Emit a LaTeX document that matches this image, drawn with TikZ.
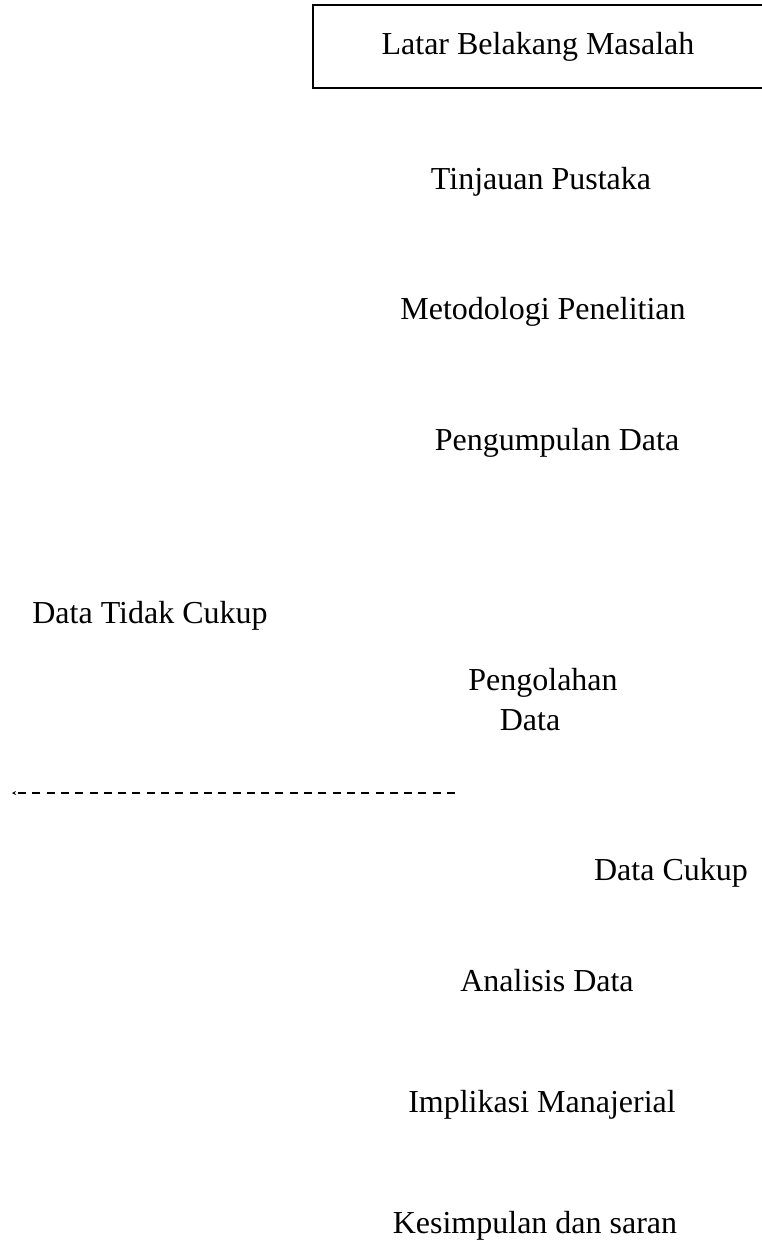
\documentclass[tikz,border=0pt]{standalone}
\usepackage{fontspec}
\setmainfont{Liberation Serif}
\usepackage{tikz}
\usetikzlibrary{arrows.meta}

\begin{document}
\begin{tikzpicture}[x=1pt, y=-1pt,
		lbl/.style = {anchor=base, inner sep=0pt, font=\fontsize{32}{37}\selectfont},
		main/.style = {draw, line width=2.2pt, minimum width=450pt, minimum height=83pt, font=\fontsize{32}{37}\selectfont}]
			\useasboundingbox (0,0) rectangle (761,1243);
			\node[main] (latar) at (538,46.5) {Latar Belakang Masalah};
			\node[lbl] (tinjauan) at (541,189) {Tinjauan Pustaka};
			\node[lbl] (metode) at (543,319) {Metodologi Penelitian};
			\node[lbl] (kumpul) at (557,450) {Pengumpulan Data};
			\node[lbl] (tidak) at (150,623) {Data Tidak Cukup};
			\node[lbl] (olah) at (543,690) {Pengolahan};
			\node[lbl] (olahdata) at (530,730) {Data};
			\node[lbl] (cukup) at (671,880) {Data Cukup};
			\node[lbl] (analisis) at (547,991) {Analisis Data};
			\node[lbl] (implikasi) at (542,1112) {Implikasi Manajerial};
			\node[lbl] (simpul) at (535,1233) {Kesimpulan dan saran};

			\coordinate (balik) at (455,793);
			\coordinate (kiri) at (12,793);
			% \draw[->] (olah) -- (tidak);
			\draw[-{Stealth[length=4pt,width=4pt]}, line width=2.3pt, dash pattern=on 8pt off 6.3pt] (balik) -- (kiri);
		\end{tikzpicture}
\end{document}
